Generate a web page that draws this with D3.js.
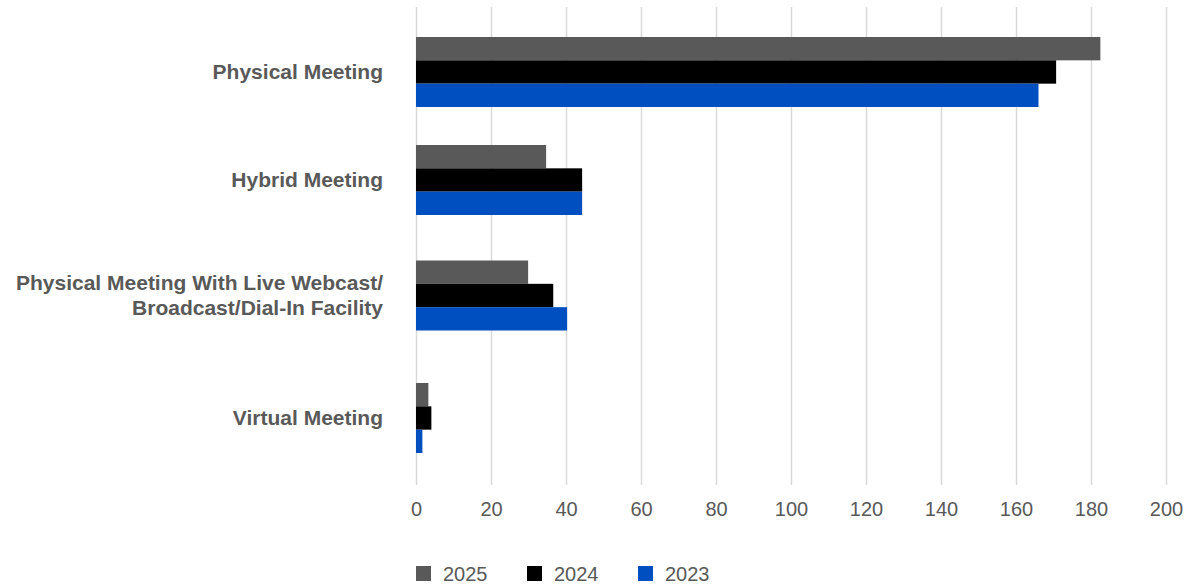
<!DOCTYPE html>
<html>
<head>
<meta charset="utf-8">
<script src="https://cdn.jsdelivr.net/npm/d3@7"></script>
<style>
  body { margin: 0; background: #fff; }
  text { font-family: "Liberation Sans", Arial, sans-serif; }
</style>
</head>
<body>
<div id="chart"></div>
<script>

// Data
var categories = [
    ["Physical Meeting"],
    ["Hybrid Meeting"],
    ["Physical Meeting With Live Webcast/", "Broadcast/Dial-In Facility"],
    ["Virtual Meeting"]
];
var years = ["2025", "2024", "2023"];
var values2025 = [182.5, 34.7, 29.9, 3.3];
var values2024 = [170.7, 44.3, 36.6, 4.1];
var values2023 = [166.0, 44.3, 40.3, 1.7];
var xTicks = [0, 20, 40, 60, 80, 100, 120, 140, 160, 180, 200];

var seriesValues = [values2025, values2024, values2023];
var colors = ["#595959", "#000000", "#004fc1"];

var svgWidth = 1187;
var svgHeight = 584;

var svg = d3.select("#chart")
    .append("svg")
    .attr("width", svgWidth)
    .attr("height", svgHeight);

// plot area
var plotLeft = 416;
var plotRight = 1166;
var gridTop = 7;
var gridBottom = 485;
var groupHeight = 70;

var xScale = d3.scaleLinear()
    .domain([0, 200])
    .range([plotLeft, plotRight]);

// category centres -- the reference spaces the groups a little unevenly,
// so a piecewise linear scale is used (like the adjusted scales in older charts)
var yCenter = d3.scaleLinear()
    .domain([0, 1, 2, 3])
    .range([72, 180, 295.5, 418]);

var ySub = d3.scaleBand()
    .domain(years)
    .range([-groupHeight / 2, groupHeight / 2]);

// gridlines + tick labels
var bottomAxis = d3.axisBottom(xScale)
    .tickValues(xTicks)
    .tickSize(-(gridBottom - gridTop))
    .tickPadding(17)
    .tickFormat(d3.format("d"));

var axisG = svg.append("g")
    .attr("transform", `translate(0, ${gridBottom})`)
    .call(bottomAxis);

axisG.select(".domain").remove();
axisG.selectAll(".tick line")
    .attr("stroke", "#d9d9d9")
    .attr("stroke-width", 1.5);
axisG.selectAll(".tick text")
    .attr("fill", "#595959")
    .style("font-size", "20px")
    .style("font-family", "'Liberation Sans', Arial, sans-serif");

// bars
years.forEach(function (yr, s) {
    svg.append("g")
        .selectAll("rect")
        .data(seriesValues[s])
        .enter()
        .append("rect")
        .attr("x", xScale(0))
        .attr("y", (d, i) => yCenter(i) + ySub(yr))
        .attr("width", d => xScale(d) - xScale(0))
        .attr("height", ySub.bandwidth())
        .attr("fill", colors[s]);
});

// category labels
var labels = svg.append("g")
    .selectAll("text")
    .data(categories)
    .enter()
    .append("text")
    .attr("x", 383)
    .attr("y", (d, i) => yCenter(i))
    .attr("text-anchor", "end")
    .attr("fill", "#595959")
    .style("font-size", "21px")
    .style("font-weight", "bold");

labels.each(function (lines) {
    var t = d3.select(this);
    var lineH = 1.2;
    var start = -(lines.length - 1) * lineH / 2;
    lines.forEach(function (line, k) {
        t.append("tspan")
            .attr("x", 383)
            .attr("dy", k === 0 ? (start + 0.35) + "em" : lineH + "em")
            .text(line);
    });
});

// legend
var legend = svg.append("g")
    .attr("transform", "translate(416, 566)");

var legendItems = legend.selectAll("g")
    .data(years)
    .enter()
    .append("g")
    .attr("transform", (d, i) => `translate(${i * 111}, 0)`);

legendItems.append("rect")
    .attr("width", 15)
    .attr("height", 15)
    .attr("fill", (d, i) => colors[i]);

legendItems.append("text")
    .attr("x", 27)
    .attr("y", 15)
    .attr("fill", "#595959")
    .style("font-size", "20px")
    .text(d => d);

</script>
</body>
</html>
